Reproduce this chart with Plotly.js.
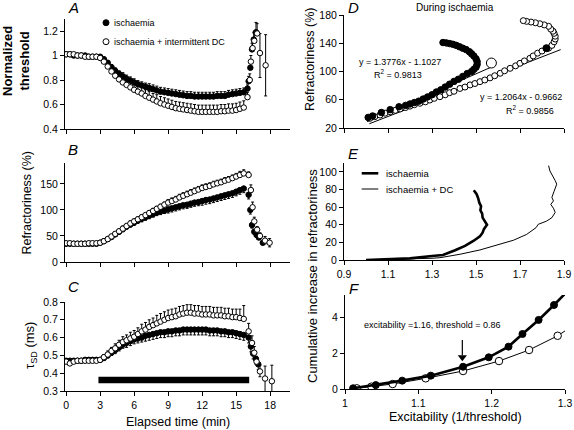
<!DOCTYPE html>
<html><head><meta charset="utf-8">
<script src="https://cdn.plot.ly/plotly-3.0.1.min.js"></script>
<style>html,body{margin:0;padding:0;background:#fff}#chart{width:574px;height:430px}</style>
</head><body><div id="chart"></div>
<script>
// ---------- time base (min) for panels A-C ----------
const tMain = [0,0.33,0.67,1,1.33,1.67,2,2.33,2.67,3,3.33,3.67,4,4.33,4.67,5,5.33,5.67,6,6.33,6.67,7,7.33,7.67,8,8.33,8.67,9,9.33,9.67,10,10.33,10.67,11,11.33,11.67,12,12.33,12.67,13,13.33,13.67,14,14.33,14.67,15,15.33,15.67];
const timeTicks = [0,3,6,9,12,15,18];

// ---------- A: normalized threshold ----------
const thrIsch = [1.01,1.01,1.0,1.0,1.0,1.0,0.99,0.99,0.99,
 0.99,0.97,0.94,0.905,0.875,0.85,0.83,0.81,0.795,
 0.78,0.765,0.755,0.745,0.735,0.725,0.715,0.705,0.70,
 0.695,0.69,0.685,0.68,0.675,0.67,0.67,0.665,0.665,
 0.665,0.665,0.665,0.665,0.67,0.67,0.67,0.68,0.685,
 0.69,0.695,0.70];
const thrIschErr = [0.01,0.01,0.01,0.01,0.01,0.01,0.01,0.01,0.01,
 0.01,0.015,0.02,0.02,0.025,0.025,0.03,0.03,0.03,
 0.03,0.03,0.03,0.03,0.035,0.035,0.035,0.035,0.035,
 0.035,0.035,0.035,0.035,0.035,0.035,0.035,0.035,0.035,
 0.035,0.035,0.035,0.035,0.035,0.035,0.035,0.035,0.035,
 0.035,0.035,0.035];
const thrDC = [1.01,1.01,1.01,1.0,1.0,0.99,0.99,0.99,0.99,
 0.98,0.95,0.91,0.87,0.835,0.805,0.78,0.76,0.74,
 0.72,0.705,0.69,0.67,0.655,0.64,0.625,0.61,0.60,
 0.59,0.58,0.57,0.565,0.56,0.555,0.55,0.545,0.54,
 0.54,0.54,0.54,0.54,0.54,0.545,0.545,0.55,0.55,
 0.555,0.565,0.575];
const thrDCErr = [0.01,0.01,0.01,0.01,0.01,0.01,0.01,0.01,0.01,
 0.015,0.02,0.025,0.03,0.035,0.04,0.04,0.045,0.045,
 0.05,0.05,0.05,0.05,0.05,0.05,0.055,0.055,0.055,
 0.055,0.055,0.055,0.055,0.055,0.055,0.055,0.055,0.055,
 0.055,0.055,0.055,0.055,0.055,0.055,0.055,0.055,0.055,
 0.055,0.055,0.055];
const tPostThrIsch = [16.0,16.1,16.25,16.4,16.55,16.75];
const thrPostIsch = [0.73,0.79,0.90,1.05,1.13,1.19];
const thrPostIschErr = [0.03,0.04,0.05,0.05,0.06,0.08];
const tPostThrDC = [16.0,16.2,16.3,16.45,16.6,16.85,17.1,17.6];
const thrPostDC = [0.66,0.80,0.95,1.06,1.12,1.18,1.02,0.92];
const thrPostDCErr = [0.04,0.05,0.05,0.05,0.06,0.08,0.16,0.25];
const thrPostDCErrMinus = [0,0,0,0,0,0,0.2,0.25];

// ---------- B: refractoriness (%) ----------
const refIsch = [35,35,35,35,35,35,35,35,35,
 37,40,44,48,53,58,63,68,72,
 76,80,83,86,89,92,95,97,99,
 101,103,105,107,109,110,112,114,115,
 117,119,120,122,124,126,128,130,132,
 135,138,141];
const refIschErrMinus = [2,2,2,2,2,2,2,2,2,
 2,3,3,4,4,4,5,5,5,
 6,6,6,6,6,6,6,6,6,
 7,7,7,7,7,7,7,7,7,
 8,8,8,8,8,8,8,8,8,
 8,8,8];
const refDC = [36,36,35,35,35,35,36,36,36,
 37,40,44,49,54,59,64,69,74,
 78,82,86,90,94,98,102,106,110,
 114,117,120,124,127,130,133,136,139,
 142,144,146,149,151,153,156,158,161,
 164,167,170];
const refDCErr = [2,2,2,2,2,2,2,2,2,
 2,3,3,4,4,4,5,5,5,
 5,5,5,5,5,5,5,5,5,
 6,6,6,6,6,6,6,6,6,
 6,6,6,6,6,6,6,6,6,
 6,7,7];
const tPostRefIsch = [16.1,16.25,16.4,16.6,16.8,17.0,17.35];
const refPostIsch = [129,100,71,58,52,47,37];
const refPostIschErrMinus = [8,8,6,5,5,4,4];
const tPostRefDC = [16.1,16.3,16.45,16.6,16.85,17.1,17.55,17.95];
const refPostDC = [167,138,105,78,62,50,41,37];
const refPostDCErr = [6,10,10,8,6,6,8,8];
const refPostDCErrMinus = [0,0,0,0,0,0,6,8];

// ---------- C: strength-duration time constant (ms) ----------
const tauIsch = [0.47,0.47,0.47,0.47,0.47,0.475,0.475,0.475,0.475,
 0.475,0.485,0.50,0.515,0.53,0.545,0.56,0.57,0.58,
 0.59,0.595,0.60,0.61,0.615,0.62,0.625,0.63,0.63,
 0.635,0.635,0.64,0.64,0.645,0.645,0.645,0.645,0.645,
 0.645,0.645,0.64,0.64,0.64,0.635,0.635,0.63,0.63,
 0.625,0.62,0.615];
const tauIschErrMinus = [0.008,0.008,0.008,0.008,0.008,0.008,0.008,0.008,0.008,
 0.01,0.01,0.015,0.015,0.02,0.02,0.02,0.025,0.025,
 0.025,0.025,0.025,0.03,0.03,0.03,0.03,0.03,0.03,
 0.03,0.03,0.03,0.03,0.03,0.03,0.03,0.03,0.03,
 0.03,0.03,0.03,0.03,0.03,0.03,0.03,0.03,0.03,
 0.03,0.03,0.03];
const tauDC = [0.465,0.455,0.465,0.47,0.47,0.47,0.47,0.47,0.47,
 0.475,0.49,0.505,0.525,0.54,0.56,0.575,0.585,0.595,
 0.605,0.62,0.635,0.645,0.66,0.67,0.68,0.69,0.70,
 0.71,0.715,0.72,0.73,0.735,0.74,0.74,0.735,0.735,
 0.73,0.73,0.73,0.725,0.725,0.725,0.72,0.72,0.715,
 0.715,0.71,0.705];
const tauDCErr = [0.01,0.01,0.01,0.01,0.01,0.01,0.01,0.01,0.01,
 0.01,0.015,0.02,0.02,0.025,0.025,0.03,0.03,0.035,
 0.035,0.035,0.04,0.04,0.04,0.04,0.045,0.045,0.045,
 0.045,0.045,0.045,0.045,0.045,0.045,0.045,0.045,0.045,
 0.045,0.045,0.045,0.045,0.045,0.045,0.045,0.045,0.045,
 0.045,0.05,0.075];
const tPostTauIsch = [16.1,16.3,16.5,16.75,16.95];
const tauPostIsch = [0.60,0.55,0.51,0.48,0.45];
const tauPostIschErrMinus = [0.03,0.03,0.03,0.03,0.03];
const tPostTauDC = [16.1,16.4,16.6,16.8,17.1,17.55,18.15];
const tauPostDC = [0.635,0.57,0.515,0.465,0.41,0.37,0.355];
const tauPostDCErr = [0.045,0.04,0.035,0.03,0.035,0.07,0.09];
const tauPostDCErrMinus = [0,0,0,0,0.03,0.08,0.09];
const ischBarT = [2.85,16.15];
const ischBarY = [0.362,0.362];

// ---------- D: refractoriness vs excitability ----------
const dIschX = [1.01,1.03,1.07,1.11,1.15,1.18,1.2,1.22,1.24,1.26,1.28,1.30,1.32,1.34,1.36,1.38,1.40,1.42,1.44,1.46,1.48,1.49,1.50,1.505,1.505,1.50,1.49,1.48,1.47,1.455,1.44,1.425,1.41,1.395,1.38,1.365,1.35];
const dIschY = [35,37,42,46,50,52,54,56,58,61,64,67,71,74,78,82,86,89,93,97,100,103,106,110,114,118,122,125,128,131,133,135,137,138.5,139.5,140.5,141];
const dDCX = [1.018,1.04,1.064,1.087,1.11,1.133,1.155,1.18,1.2,1.22,1.245,1.27,1.29,1.31,1.336,1.36,1.38,1.40,1.427,1.45,1.473,1.495,1.518,1.54,1.564,1.585,1.61,1.63,1.655,1.68,1.70,1.72,1.745,1.76,1.78,1.80,1.83,1.845,1.855,1.86,1.86,1.855,1.85,1.84,1.83,1.81,1.79,1.77,1.75,1.73,1.715];
const dDCY = [33.7,36,38.4,41,43,45,47,49,51,53,55,57,59.6,62,64.3,67,70,72,76,78,81,83,85.6,88,91,94,97.5,101,104.5,108,111.6,115,118.7,122,126,129,133,137,142,146,150,154,157,160,164,166,167.6,169,170,171,172];
const dBigOpenX = [1.57], dBigOpenY = [112];
const dExtraFilledX = [1.82], dExtraFilledY = [133];
const dFitIschX = [1.005,1.59], dFitIschY = [29,109];
const dFitDCX = [1.015,1.885], dFitDCY = [26,131];

// ---------- E: cumulative increase (full range) ----------
const eIschX = [1.0,1.1,1.2,1.3,1.35,1.405,1.45,1.488,1.518,1.53,1.536,1.55,1.541,1.53,1.528,1.52,1.523,1.515,1.51,1.503,1.49];
const eIschY = [0,0.5,1.8,4.5,5.7,11,16,21.6,27,31,35,40,43.5,48,52.6,56.4,61,65,70,74.6,79];
const eDCX = [1.0,1.1,1.2,1.3,1.336,1.427,1.518,1.594,1.67,1.73,1.773,1.783,1.82,1.845,1.86,1.852,1.84,1.852,1.845,1.855,1.867,1.86,1.836,1.83];
const eDCY = [0,0.5,1.2,2,2.6,6.5,11.4,16.7,22.4,29,36.7,40.5,44,48,54,58.7,63,67,71,78,86,90,101,107];

// ---------- F: cumulative increase (low range) ----------
const fIschX = [1.011,1.042,1.078,1.117,1.161,1.196,1.223,1.242,1.264,1.285];
const fIschY = [0.04,0.22,0.47,0.75,1.25,1.78,2.38,3.09,3.88,4.72];
const fIschTailX = [1.285,1.30], fIschTailY = [4.72,5.35];
const fDCX = [1.016,1.036,1.065,1.110,1.161,1.21,1.251,1.29];
const fDCY = [0.04,0.13,0.28,0.6,1.01,1.57,2.19,2.99];
const fDCTailX = [1.29,1.30], fDCTailY = [2.99,3.26];
const fArrowShaftX = [1.16,1.16], fArrowShaftY = [2.75,1.9];
const fArrowHeadX = [1.16], fArrowHeadY = [1.78];

// ---------- drawing ----------
const FONT = "Liberation Sans, Arial, sans-serif";
const W = 574, H = 430;
const px = v => v / W, py = v => 1 - v / H;
const zeros = a => a.map(() => 0);
const filledM = s => ({symbol:'circle', size:s, color:'#000', line:{color:'#000', width:1}});
const openM = s => ({symbol:'circle', size:s, color:'#fff', line:{color:'#000', width:1}});
const eb = (plus, minus) => ({type:'array', symmetric:false, array:plus, arrayminus:minus, color:'#000', thickness:1, width:1.5});

const traces = [];
// A
traces.push({x:tMain.concat(tPostThrIsch), y:thrIsch.concat(thrPostIsch), xaxis:'x', yaxis:'y', mode:'markers', marker:filledM(5.5),
  error_y:eb(thrIschErr.concat(thrPostIschErr), zeros(thrIschErr.concat(thrPostIschErr)))});
traces.push({x:tMain.concat(tPostThrDC), y:thrDC.concat(thrPostDC), xaxis:'x', yaxis:'y', mode:'markers', marker:openM(5.5),
  error_y:eb(thrDCErr.concat(thrPostDCErr), zeros(thrDCErr).concat(thrPostDCErrMinus))});
// B
traces.push({x:tMain.concat(tPostRefIsch), y:refIsch.concat(refPostIsch), xaxis:'x2', yaxis:'y2', mode:'markers', marker:filledM(5.5),
  error_y:eb(zeros(refIschErrMinus.concat(refPostIschErrMinus)), refIschErrMinus.concat(refPostIschErrMinus))});
traces.push({x:tMain.concat(tPostRefDC), y:refDC.concat(refPostDC), xaxis:'x2', yaxis:'y2', mode:'markers', marker:openM(5.5),
  error_y:eb(refDCErr.concat(refPostDCErr), zeros(refDCErr).concat(refPostDCErrMinus))});
// C
traces.push({x:ischBarT, y:ischBarY, xaxis:'x3', yaxis:'y3', mode:'lines', line:{color:'#000', width:6.5}});
traces.push({x:tMain.concat(tPostTauIsch), y:tauIsch.concat(tauPostIsch), xaxis:'x3', yaxis:'y3', mode:'markers', marker:filledM(5.5),
  error_y:eb(zeros(tauIschErrMinus.concat(tauPostIschErrMinus)), tauIschErrMinus.concat(tauPostIschErrMinus))});
traces.push({x:tMain.concat(tPostTauDC), y:tauDC.concat(tauPostDC), xaxis:'x3', yaxis:'y3', mode:'markers', marker:openM(5.5),
  error_y:eb(tauDCErr.concat(tauPostDCErr), zeros(tauDCErr).concat(tauPostDCErrMinus))});
// D
traces.push({x:dFitIschX, y:dFitIschY, xaxis:'x4', yaxis:'y4', mode:'lines', line:{color:'#000', width:1}});
traces.push({x:dFitDCX, y:dFitDCY, xaxis:'x4', yaxis:'y4', mode:'lines', line:{color:'#000', width:1}});
traces.push({x:dDCX, y:dDCY, xaxis:'x4', yaxis:'y4', mode:'markers', marker:openM(6)});
traces.push({x:dIschX, y:dIschY, xaxis:'x4', yaxis:'y4', mode:'markers', marker:filledM(6.5)});
traces.push({x:dExtraFilledX, y:dExtraFilledY, xaxis:'x4', yaxis:'y4', mode:'markers', marker:filledM(7)});
traces.push({x:dBigOpenX, y:dBigOpenY, xaxis:'x4', yaxis:'y4', mode:'markers', marker:openM(10)});
// E
traces.push({x:eIschX, y:eIschY, xaxis:'x5', yaxis:'y5', mode:'lines', line:{color:'#000', width:2.6}});
traces.push({x:eDCX, y:eDCY, xaxis:'x5', yaxis:'y5', mode:'lines', line:{color:'#000', width:1}});
// F
traces.push({x:fIschTailX, y:fIschTailY, xaxis:'x6', yaxis:'y6', mode:'lines', line:{color:'#000', width:2.6}});
traces.push({x:fDCTailX, y:fDCTailY, xaxis:'x6', yaxis:'y6', mode:'lines', line:{color:'#000', width:1}});
traces.push({x:fDCX, y:fDCY, xaxis:'x6', yaxis:'y6', mode:'lines+markers', line:{color:'#000', width:1}, marker:openM(7.5)});
traces.push({x:fIschX, y:fIschY, xaxis:'x6', yaxis:'y6', mode:'lines+markers', line:{color:'#000', width:2.6}, marker:filledM(7)});
traces.push({x:fArrowShaftX, y:fArrowShaftY, xaxis:'x6', yaxis:'y6', mode:'lines', line:{color:'#000', width:1.2}});
traces.push({x:fArrowHeadX, y:fArrowHeadY, xaxis:'x6', yaxis:'y6', mode:'markers', marker:{symbol:'triangle-down', size:8, color:'#000', line:{width:0}}});

const axBase = {showline:true, linecolor:'#000', linewidth:1, ticks:'outside', ticklen:4, tickwidth:1, tickcolor:'#000',
  showgrid:false, zeroline:false, fixedrange:true, tickmode:'array', tickfont:{family:FONT, size:10.5, color:'#000'}};
const ax = o => Object.assign({}, axBase, o);
const leftX = [px(65), px(290)], rightX = [px(344), px(564)];

const layout = {
  width:W, height:H, margin:{l:0,r:0,t:0,b:0}, paper_bgcolor:'#fff', plot_bgcolor:'rgba(0,0,0,0)',
  showlegend:false, font:{family:FONT, color:'#000'},
  xaxis: ax({domain:leftX, range:[-0.1,19.75], anchor:'y', tickvals:timeTicks, showticklabels:false}),
  yaxis: ax({domain:[py(129), py(18.75)], range:[0.4,1.3], anchor:'x', tickvals:[0.4,0.6,0.8,1,1.2], ticktext:['0.4','0.6','0.8','1','1.2']}),
  xaxis2: ax({domain:leftX, range:[-0.1,19.75], anchor:'y2', tickvals:timeTicks, showticklabels:false}),
  yaxis2: ax({domain:[py(262), py(163)], range:[0,190], anchor:'x2', tickvals:[0,50,100,150]}),
  xaxis3: ax({domain:leftX, range:[-0.1,19.75], anchor:'y3', tickvals:timeTicks}),
  yaxis3: ax({domain:[py(391), py(302)], range:[0.3,0.8], anchor:'x3', tickvals:[0.3,0.4,0.5,0.6,0.7,0.8], ticktext:['0.3','0.4','0.5','0.6','0.7','0.8']}),
  xaxis4: ax({domain:rightX, range:[0.9,1.9], anchor:'y4', tickvals:[0.9,1.1,1.3,1.5,1.7,1.9], showticklabels:false}),
  yaxis4: ax({domain:[py(128), py(15)], range:[20,180], anchor:'x4', tickvals:[20,60,100,140,180]}),
  xaxis5: ax({domain:rightX, range:[0.9,1.9], anchor:'y5', tickvals:[0.9,1.1,1.3,1.5,1.7,1.9], ticktext:['0.9','1.1','1.3','1.5','1.7','1.9']}),
  yaxis5: ax({domain:[py(260), py(163)], range:[0,110], anchor:'x5', tickvals:[0,20,40,60,80,100]}),
  xaxis6: ax({domain:[px(345), px(565)], range:[1,1.3], anchor:'y6', tickvals:[1,1.1,1.2,1.3], ticktext:['1','1.1','1.2','1.3']}),
  yaxis6: ax({domain:[py(389), py(295)], range:[0,5.28], anchor:'x6', tickvals:[0,2,4]}),
  shapes: [
    {type:'circle', xref:'paper', yref:'paper', xsizemode:'pixel', ysizemode:'pixel', xanchor:px(106), yanchor:py(22.7), x0:-3, x1:3, y0:-3, y1:3, fillcolor:'#000', line:{color:'#000', width:1}},
    {type:'circle', xref:'paper', yref:'paper', xsizemode:'pixel', ysizemode:'pixel', xanchor:px(106), yanchor:py(41.7), x0:-3, x1:3, y0:-3, y1:3, fillcolor:'#fff', line:{color:'#000', width:1}},
    {type:'line', xref:'paper', yref:'paper', x0:px(361.7), x1:px(378.3), y0:py(173.3), y1:py(173.3), line:{color:'#000', width:2.6}},
    {type:'line', xref:'paper', yref:'paper', x0:px(361.7), x1:px(378.3), y0:py(189), y1:py(189), line:{color:'#000', width:1}}
  ],
  annotations: []
};
const ann = (text, x, y, size, extra) => layout.annotations.push(Object.assign({text, x:px(x), y:py(y), xref:'paper', yref:'paper',
  showarrow:false, xanchor:'center', yanchor:'middle', font:{family:FONT, size, color:'#000'}}, extra || {}));
ann('<i>A</i>', 73, 7, 15); ann('<i>B</i>', 73, 149, 15); ann('<i>C</i>', 73, 286, 15);
ann('<i>D</i>', 353, 7, 15); ann('<i>E</i>', 353, 153, 15); ann('<i>F</i>', 354, 288, 15);
ann('During ischaemia', 455, 7, 10);
ann('y = 1.3776x - 1.1027', 399.5, 62, 9);
ann('R<sup>2</sup> = 0.9813', 398, 74, 9);
ann('y = 1.2064x - 0.9662', 520.5, 97, 9);
ann('R<sup>2</sup> = 0.9856', 530, 110, 9);
ann('ischaemia', 112, 22.7, 9, {xanchor:'left'});
ann('ischaemia + intermittent DC', 112, 41.7, 9, {xanchor:'left'});
ann('ischaemia', 384, 173.3, 9.5, {xanchor:'left'});
ann('ischaemia + DC', 384, 189, 9.5, {xanchor:'left'});
ann('<b>Normalized<br>threshold</b>', 16, 61, 13, {textangle:-90});
ann('Refractoriness (%)', 26.5, 203, 12.5, {textangle:-90});
ann('τ<sub>SD</sub> (ms)', 30, 346, 13, {textangle:-90});
ann('Elapsed time (min)', 177.5, 422, 12.5);
ann('Refractoriness (%)', 310, 59, 12.5, {textangle:-90});
ann('Cumulative increase in refractoriness', 312, 276, 13, {textangle:-90});
ann('Excitability (1/threshold)', 455, 417, 12.5);
ann('excitability =1.16, threshold = 0.86', 432, 325, 9);

Plotly.newPlot('chart', traces, layout, {staticPlot:true, displayModeBar:false});
</script></body></html>
